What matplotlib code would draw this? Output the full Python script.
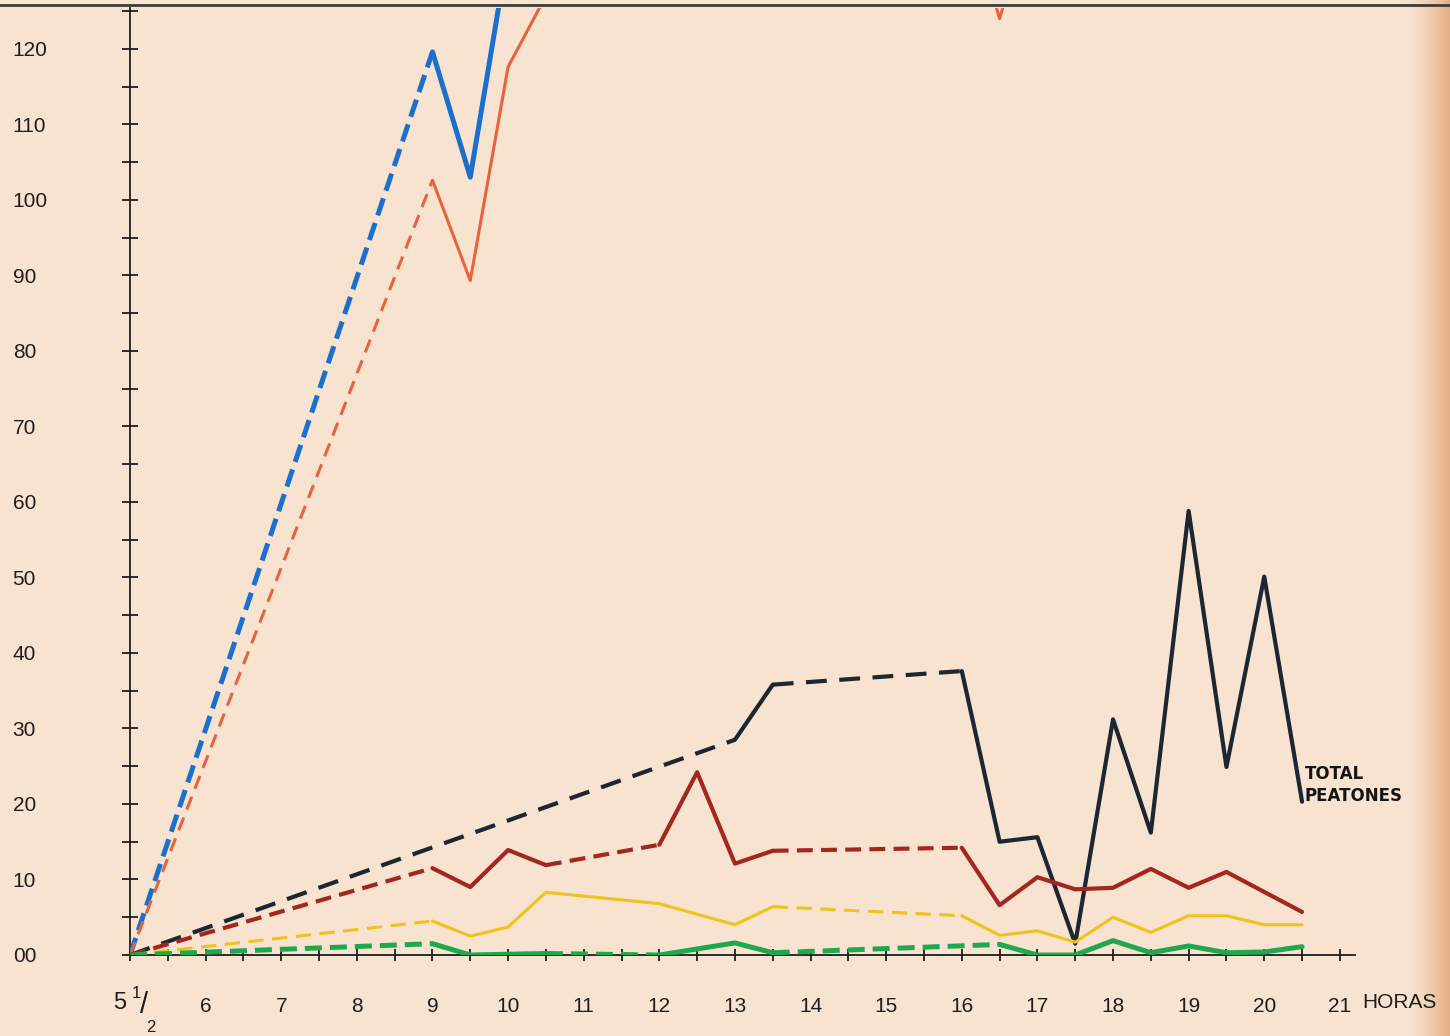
import numpy as np
import matplotlib.pyplot as plt
from matplotlib.lines import Line2D
from matplotlib.colors import LinearSegmentedColormap

# horas (5.5 = 5 1/2) y valores; estilo de cada tramo: d = discontinuo, s = continuo
azul_h = [5.5, 9, 9.5, 10]
azul_v = [0, 119.6, 103, 133]
azul_s = 'dss'

naranja_h = [5.5, 9, 9.5, 10, 10.5, 16, 16.5, 17]
naranja_v = [0, 102.6, 89.3, 117.6, 127, 141, 124, 141]
naranja_s = 'dssssss'

total_h = [5.5, 13, 13.5, 16, 16.5, 17, 17.5, 18, 18.5, 19, 19.5, 20, 20.5]
total_v = [0, 28.5, 35.8, 37.6, 15.0, 15.6, 1.5, 31.2, 16.2, 58.8, 24.9, 50.1, 20.3]
total_s = 'dsd' + 's' * 9

rojo_h = [5.5, 9, 9.5, 10, 10.5, 12, 12.5, 13, 13.5, 16, 16.5, 17, 17.5, 18, 18.5, 19, 19.5, 20.5]
rojo_v = [0, 11.5, 9.0, 13.9, 11.9, 14.6, 24.2, 12.1, 13.8, 14.2, 6.6, 10.3, 8.7, 8.9, 11.4, 8.9, 11.0, 5.7]
rojo_s = 'dsssdsssd' + 's' * 8

amarillo_h = [5.5, 9, 9.5, 10, 10.5, 12, 13, 13.5, 16, 16.5, 17, 17.5, 18, 18.5, 19, 19.5, 20, 20.5]
amarillo_v = [0, 4.5, 2.5, 3.7, 8.3, 6.8, 4.0, 6.4, 5.2, 2.6, 3.2, 1.7, 5.0, 3.0, 5.2, 5.2, 4.0, 4.0]
amarillo_s = 'dssssssd' + 's' * 9

verde_h = [5.5, 9, 9.5, 10.5, 12, 13, 13.5, 16.5, 17, 17.5, 18, 18.5, 19, 19.5, 20, 20.5]
verde_v = [0, 1.5, 0, 0.2, 0, 1.6, 0.3, 1.4, 0, 0, 1.9, 0.3, 1.2, 0.3, 0.4, 1.1]
verde_s = 'dssdssd' + 's' * 8

y_ticks = list(range(0, 121, 10))
y_labels = ['00'] + [str(v) for v in y_ticks[1:]]
x_ticks = [5.5] + list(range(6, 22))
x_labels = [''] + [str(h) for h in range(6, 22)]  # el 5 1/2 se rotula aparte

papel = '#f8e3d0'
tinta = '#1e1e1e'


# el tramo 5 1/2 - 6 ocupa en el papel lo mismo que una hora
def fwd(x):
    x = np.asarray(x, dtype=float)
    return np.where(x < 6, 6 - (6 - x) * 2, x)


def inv(y):
    y = np.asarray(y, dtype=float)
    return np.where(y < 6, 6 - (6 - y) / 2, y)


def trazo(ax, horas, vals, estilos, color, lw, dash):
    i = 0
    while i < len(estilos):
        j = i
        while j < len(estilos) and estilos[j] == estilos[i]:
            j += 1
        kw = dict(color=color, lw=lw, solid_joinstyle='round', solid_capstyle='round', zorder=3)
        if estilos[i] == 'd':
            ax.plot(horas[i:j + 1], vals[i:j + 1], dashes=dash, **kw)
        else:
            ax.plot(horas[i:j + 1], vals[i:j + 1], **kw)
        i = j


plt.rcParams['font.family'] = ['Liberation Sans', 'DejaVu Sans']
fig = plt.figure(figsize=(14.5, 10.36), dpi=100, facecolor=papel)

# borde derecho oscurecido del escaneo
axb = fig.add_axes([1405 / 1450, 0, 45 / 1450, 1])
axb.imshow(np.linspace(0, 1, 60)[None, :] ** 1.5, aspect='auto',
           cmap=LinearSegmentedColormap.from_list('borde', [papel, '#e4ae84']))
axb.axis('off')

ax = fig.add_axes([130 / 1450, 1 - 955 / 1036, 1225 / 1450, 947 / 1036])
ax.set_facecolor('none')
ax.set_xscale('function', functions=(fwd, inv))
ax.set_xlim(5.5, 21.2)
ax.set_ylim(0, 125.4)

trazo(ax, azul_h, azul_v, azul_s, '#1b6fcf', 3.6, (3.6, 1.6))
trazo(ax, naranja_h, naranja_v, naranja_s, '#e9623c', 2.2, (4.5, 2.8))
trazo(ax, total_h, total_v, total_s, '#1c2731', 3.0, (5.0, 3.0))
trazo(ax, rojo_h, rojo_v, rojo_s, '#a4271f', 3.0, (3.8, 2.0))
trazo(ax, amarillo_h, amarillo_v, amarillo_s, '#f0c21c', 2.2, (5.0, 2.8))
trazo(ax, verde_h, verde_v, verde_s, '#20a84f', 3.6, (3.4, 1.6))

for s in ['top', 'right']:
    ax.spines[s].set_visible(False)
for s in ['left', 'bottom']:
    ax.spines[s].set_color(tinta)
    ax.spines[s].set_linewidth(1.3)

ax.set_yticks(y_ticks, labels=y_labels, ha='left')
ax.set_yticks(np.arange(5, 126, 10), minor=True)
ax.tick_params(axis='y', which='both', direction='inout', length=11, width=1.3,
               color=tinta, labelsize=15, labelcolor=tinta, pad=79)

ax.set_xticks(x_ticks, labels=x_labels)
ax.set_xticks([5.75] + list(np.arange(6.5, 21, 1.0)), minor=True)
ax.tick_params(axis='x', which='both', direction='inout', length=8, width=1.3,
               color=tinta, labelsize=15, labelcolor=tinta, pad=26)

# rotulo "5 1/2" del origen
xt = ax.get_xaxis_transform()
for txt, dx, dy, fs in [('5', -10, -48, 17), ('1', 6, -39, 12), ('/', 14, -50, 21), ('2', 21, -73, 12)]:
    ax.annotate(txt, xy=(x_ticks[0], 0), xycoords=xt, xytext=(dx, dy), textcoords='offset pixels',
                ha='center', va='center', fontsize=fs, color=tinta, annotation_clip=False)

ax.annotate('TOTAL\nPEATONES', xy=(total_h[-1], total_v[-1]), xytext=(2, 12),
            textcoords='offset points', ha='left', va='center', fontsize=12,
            fontweight='bold', family='DejaVu Sans', color='#151515', linespacing=1.3)

fig.text(1362 / 1450, 1 - 1003 / 1036, 'HORAS', ha='left', va='center',
         fontsize=15, color=tinta)

# borde superior de la hoja
fig.add_artist(Line2D([0, 1], [1 - 5 / 1036] * 2, transform=fig.transFigure,
                      color='#3c3c3c', lw=2))

fig.savefig('out.png', dpi=100, facecolor=papel)
